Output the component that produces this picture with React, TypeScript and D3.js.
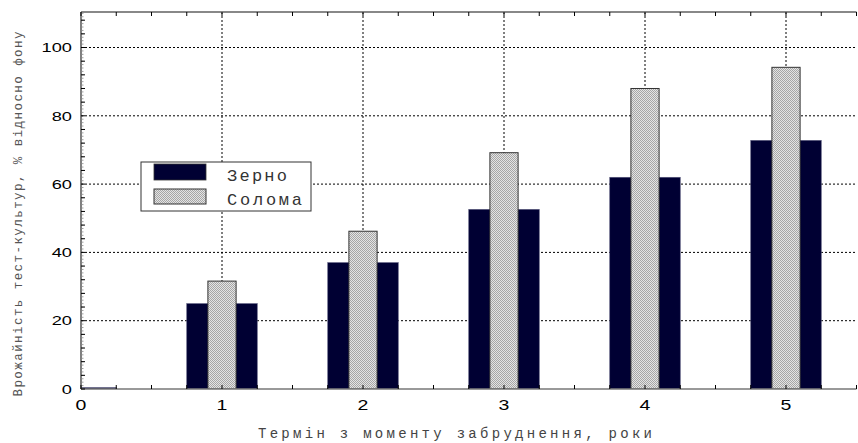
import React from "react";
import * as d3 from "d3";

const years = [0, 1, 2, 3, 4, 5];
const grain = [0.4, 25, 37, 52.6, 62, 72.8];
const straw = [0, 31.6, 46.2, 69.2, 88, 94.2];
const yTicks = [0, 20, 40, 60, 80, 100];
const xTicks = [0, 1, 2, 3, 4, 5];
const seriesNames = ["Зерно", "Солома"];

const W = 858;
const H = 443;
const left = 81;
const right = 856.5;
const top = 12;
const bottom = 389;

const x = d3.scaleLinear().domain([0, 5.5]).range([left, right]);
const y = d3.scaleLinear().domain([0, 110.4]).range([bottom, top]);

const navy = "#000033";
const mono = "'Liberation Mono', 'DejaVu Sans Mono', monospace";
const sans = "'Liberation Sans', Arial, sans-serif";

const App: React.FC = () => {
	const minorY = d3.range(0, 111, 1);
	const midY = d3.range(0, 111, 4);
	const quarterX = d3.range(0, 5.51, 0.25);
	const grainW = x(0.5) - x(0);
	const strawW = x(0.2) - x(0);

	return (
		<svg
			width={W}
			height={H}
			style={{ position: "absolute", left: 0, top: 0, background: "#fff" }}
		>
			<defs>
				<pattern id="hatch" width="2" height="2" patternUnits="userSpaceOnUse">
					<rect width="2" height="2" fill="#e4e4e4" />
					<rect width="1" height="1" fill="#a6a6a6" />
					<rect x="1" y="1" width="1" height="1" fill="#a6a6a6" />
				</pattern>
				<clipPath id="plot">
					<rect x={left} y={top} width={right - left} height={bottom - top} />
				</clipPath>
			</defs>

			{/* grid */}
			{yTicks.filter((t) => t > 0).map((t) => (
				<line key={"gy" + t} x1={left} x2={right} y1={y(t)} y2={y(t)}
					stroke="#000" strokeWidth={1} strokeDasharray="2,2" />
			))}
			{xTicks.filter((t) => t > 0).map((t) => (
				<line key={"gx" + t} x1={x(t)} x2={x(t)} y1={top} y2={bottom}
					stroke="#000" strokeWidth={1} strokeDasharray="2,2" />
			))}

			{/* bars */}
			<g clipPath="url(#plot)">
				{years.map((yr, i) => (
					<rect key={"g" + yr} x={x(yr) - grainW / 2} y={y(grain[i])}
						width={grainW} height={bottom - y(grain[i])}
						fill={navy} stroke="#55557a" strokeWidth={0.6} />
				))}
				{years.map((yr, i) =>
					straw[i] > 0 ? (
						<rect key={"s" + yr} x={x(yr) - strawW / 2} y={y(straw[i])}
							width={strawW} height={bottom - y(straw[i])}
							fill="url(#hatch)" stroke="#333" strokeWidth={1} />
					) : null
				)}
			</g>

			{/* axes frame */}
			<line x1={left} x2={right} y1={top} y2={top} stroke="#888" strokeWidth={2} />
			<line x1={left} x2={right} y1={bottom} y2={bottom} stroke="#777" strokeWidth={1.5} />
			<line x1={left} x2={left} y1={top} y2={bottom} stroke="#555" strokeWidth={1.5} />
			{minorY.map((t) => (
				<line key={"my" + t} x1={left} x2={left + 2.5} y1={y(t)} y2={y(t)}
					stroke="#888" strokeWidth={0.8} />
			))}
			{midY.map((t) => (
				<line key={"ty" + t} x1={left} x2={left + 4} y1={y(t)} y2={y(t)}
					stroke="#000" strokeWidth={1} />
			))}
			{quarterX.map((t) => (
				<g key={"tx" + t}>
					<line x1={x(t)} x2={x(t)} y1={bottom} y2={bottom - 4} stroke="#000" strokeWidth={1} />
					<line x1={x(t)} x2={x(t)} y1={top} y2={top + 4} stroke="#000" strokeWidth={1} />
				</g>
			))}

			{/* tick labels */}
			{yTicks.map((t) => (
				<g key={"ly" + t} transform={`translate(72,${y(t)}) scale(1.35,1)`}>
					<text textAnchor="end" dy="0.35em" fontFamily={sans} fontSize={13.5} fill="#000">
						{t}
					</text>
				</g>
			))}
			{xTicks.map((t) => (
				<g key={"lx" + t} transform={`translate(${x(t)},410) scale(1.3,1)`}>
					<text textAnchor="middle" fontFamily={sans} fontSize={15} fill="#000">
						{t}
					</text>
				</g>
			))}

			{/* axis titles */}
			<text x={455} y={437.5} textAnchor="middle" fontFamily={mono} fontSize={14}
				fill="#444" textLength={394} lengthAdjust="spacing">
				Термін з моменту забруднення, роки
			</text>
			<text transform="translate(22,214) rotate(-90)" textAnchor="middle"
				fontFamily={mono} fontSize={12.5} fill="#555" textLength={365} lengthAdjust="spacing">
				Врожайність тест-культур, % відносно фону
			</text>

			{/* legend */}
			<rect x={141} y={162} width={170} height={49} fill="#fff" stroke="#333" strokeWidth={1} />
			<rect x={154} y={164} width={52} height={16} fill={navy} stroke="#333" strokeWidth={0.8} />
			<rect x={154} y={189} width={52} height={15} fill="url(#hatch)" stroke="#333" strokeWidth={1} />
			<text x={227} y={181} fontFamily={mono} fontSize={17} fill="#333"
				textLength={60} lengthAdjust="spacing">
				{seriesNames[0]}
			</text>
			<text x={227} y={205} fontFamily={mono} fontSize={17} fill="#333"
				textLength={75} lengthAdjust="spacing">
				{seriesNames[1]}
			</text>
		</svg>
	);
};

export default App;
